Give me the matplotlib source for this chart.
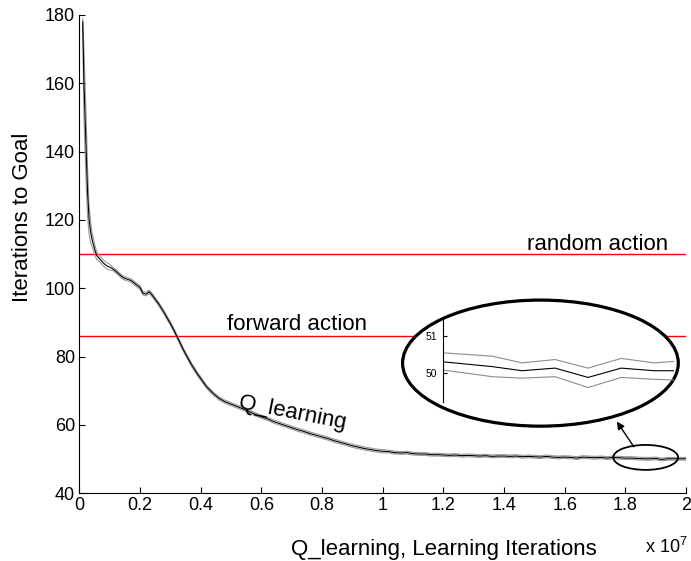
import numpy as np
import matplotlib.pyplot as plt
from matplotlib.patches import Ellipse

plt.rcParams['font.family'] = ['Liberation Sans', 'DejaVu Sans']
plt.rcParams['mathtext.fontset'] = 'custom'
plt.rcParams['mathtext.rm'] = 'Liberation Sans'
plt.rcParams['mathtext.it'] = 'Liberation Sans'

# Q-learning curve, x in units of 1e7 learning iterations
steps = np.concatenate([
    [0.011, 0.015, 0.022, 0.027, 0.032, 0.037, 0.042, 0.05, 0.057],
    np.arange(0.06, 0.405, 0.01),
    np.arange(0.42, 2.005, 0.02),
])
iters_mean = [
    178, 160, 141, 128, 120, 116.5, 114.2, 111.5, 109.6,
    109.3, 108.3, 107.3, 106.6, 106.2, 105.7, 105.0, 104.2, 103.4, 102.9,
    102.6, 102.3, 101.6, 100.9, 100.2, 98.5, 98.3, 99.0, 98.0, 96.8,
    95.6, 94.2, 92.8, 91.2, 89.7, 88.0, 86.2, 84.4, 82.5, 80.8,
    79.2, 77.6, 76.2, 74.8, 73.6,
    71.1, 69.3, 67.8, 66.8, 66.1, 65.4, 64.7, 63.9, 63.1, 62.4,
    61.8, 61.0, 60.4, 59.8, 59.2, 58.6, 58.1, 57.5, 57.0, 56.5,
    56.0, 55.4, 54.9, 54.4, 53.9, 53.5, 53.1, 52.8, 52.5, 52.3,
    52.2, 51.9, 51.8, 51.9, 51.6, 51.5, 51.5, 51.3, 51.3, 51.2,
    51.1, 51.2, 51.0, 51.1, 51.0, 50.9, 51.0, 50.8, 50.9, 50.9,
    50.8, 50.9, 50.7, 50.8, 50.7, 50.6, 50.8, 50.6, 50.5, 50.6,
    50.5, 50.3, 50.6, 50.5, 50.4, 50.5, 50.3, 50.5, 50.4, 50.3,
    50.3, 50.2, 50.1, 50.1, 50.2, 49.9, 50.1, 50.1, 50.1, 50.1,
]
# half width of the confidence band around the mean
iters_band = ([1, 10, 10, 7, 4, 3, 2, 1.5, 1.2] + [0.9] * 5 + [0.5] * 30
              + [0.45] * 30 + [0.4] * 50)

random_action = 110
forward_action = 86

# close-up of the tail
zoom_x = [0, 1.5, 2.4, 3.4, 4.4, 5.4, 6.4, 7.0]
zoom_mean = [50.31, 50.18, 50.07, 50.14, 49.89, 50.14, 50.07, 50.07]
zoom_upper = [50.55, 50.46, 50.28, 50.37, 50.14, 50.40, 50.28, 50.32]
zoom_lower = [50.09, 49.91, 49.87, 49.91, 49.62, 49.89, 49.84, 49.82]

upper = np.array(iters_mean) + np.array(iters_band)
lower = np.array(iters_mean) - np.array(iters_band)

fig = plt.figure(figsize=(6.91, 5.61), dpi=100)
ax = fig.add_axes([0.1149, 0.1207, 0.8779, 0.8526])

ax.axhline(random_action, color='red', lw=1.0, zorder=1)
ax.axhline(forward_action, color='red', lw=1.0, zorder=1)
ax.plot(steps, upper, color='#999999', lw=0.8, zorder=2)
ax.plot(steps, lower, color='#999999', lw=0.8, zorder=2)
ax.plot(steps, iters_mean, color='black', lw=0.8, zorder=3)

ax.set_xlim(0, 2)
ax.set_ylim(40, 180)
xt = [0, 0.2, 0.4, 0.6, 0.8, 1, 1.2, 1.4, 1.6, 1.8, 2]
ax.set_xticks(xt)
ax.set_xticklabels(['0', '0.2', '0.4', '0.6', '0.8', '1', '1.2', '1.4', '1.6', '1.8', '2'])
ax.set_yticks(range(40, 181, 20))
ax.tick_params(direction='in', length=4, width=0.8, labelsize=13, pad=3)
for s in ['top', 'right']:
    ax.spines[s].set_visible(False)
for s in ['left', 'bottom']:
    ax.spines[s].set_linewidth(0.8)

ax.text(1.942, 111.2, 'random action', fontsize=16, ha='right', va='baseline')
ax.text(0.488, 87.8, 'forward action', fontsize=16, ha='left', va='baseline')
ax.text(0.524, 64.9, 'Q_learning', fontsize=16, rotation=-11,
        rotation_mode='anchor', ha='left', va='baseline')

# marker round the tail and the big magnified ellipse
ax.add_patch(Ellipse((1.867, 50.5), 0.214, 7.3, fill=False, ec='black', lw=1.3, zorder=4))
ax.add_patch(Ellipse((1.520, 78.1), 0.909, 36.9, fc='white', ec='black', lw=2.3, zorder=5))
ax.annotate('', xy=(1.772, 61.0), xytext=(1.828, 53.6),
            arrowprops=dict(arrowstyle='-|>', color='black', lw=1.0,
                            mutation_scale=11, shrinkA=0, shrinkB=0),
            zorder=6)

fig.text(0.642, 0.0107, 'Q_learning, Learning Iterations', fontsize=16,
         ha='center', va='baseline')
fig.text(0.933, 0.0142, 'x 10$^{7}$', fontsize=13, ha='left', va='baseline')
fig.text(0.033, 1 - 217.5 / 561, 'Iterations to Goal', fontsize=16,
         rotation=90, ha='center', va='center')

ins = fig.add_axes([0.6407, 0.284, 0.3347, 0.1456])
ins.patch.set_visible(False)
ins.plot(zoom_x, zoom_upper, color='#8c8c8c', lw=0.8)
ins.plot(zoom_x, zoom_lower, color='#8c8c8c', lw=0.8)
ins.plot(zoom_x, zoom_mean, color='black', lw=0.8)
ins.set_xlim(0, 7)
ins.set_ylim(49.24, 51.43)
ins.set_yticks([50, 51])
ins.set_xticks([])
ins.tick_params(direction='in', length=3, width=0.8, labelsize=7.5, pad=4)
for s in ['top', 'right', 'bottom']:
    ins.spines[s].set_visible(False)
ins.spines['left'].set_linewidth(0.8)

fig.savefig('out.png', dpi=100)
